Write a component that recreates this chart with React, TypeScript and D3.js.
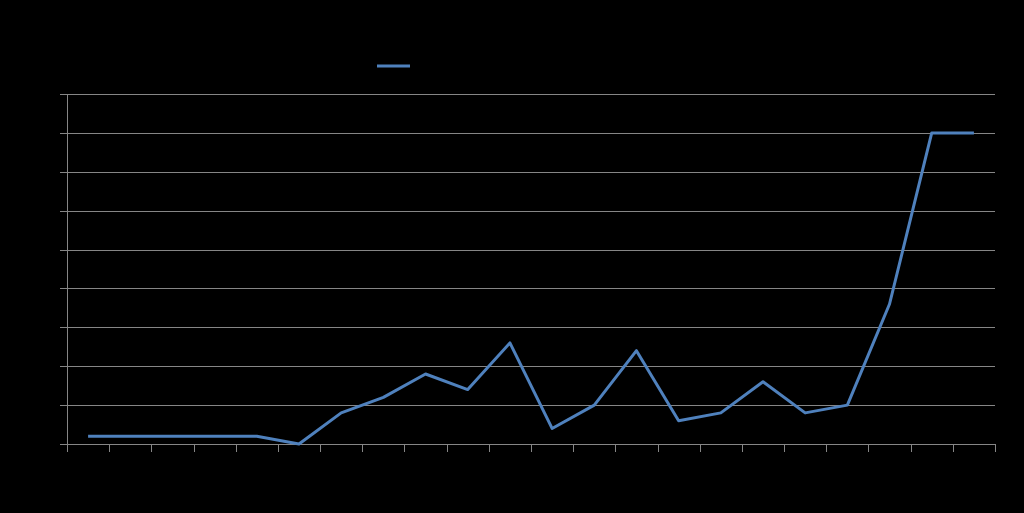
import React from "react";
import * as d3 from "d3";

const categories: string[] = Array.from({ length: 22 }, (_, i) => String(i + 1));
const seriesName = "Series 1";
const values: number[] = [0.2, 0.2, 0.2, 0.2, 0.2, 0, 0.8, 1.2, 1.8, 1.4, 2.6, 0.4, 1.0, 2.4, 0.6, 0.8, 1.6, 0.8, 1.0, 3.6, 8, 8];
const yTicks: number[] = [0, 1, 2, 3, 4, 5, 6, 7, 8, 9];

const W = 1024;
const H = 513;
const left = 67, right = 995, top = 94, bottom = 444;

export default function App() {
  const x = d3.scaleBand<string>().domain(categories).range([left, right]);
  const y = d3.scaleLinear().domain([0, 9]).range([bottom, top]);
  const line = d3
    .line<number>()
    .x((_, i) => (x(categories[i]) as number) + x.bandwidth() / 2)
    .y((d) => y(d));
  const grid = "#868686";
  const blue = "#4f81bd";
  const tickEdges = [...categories.map((c) => x(c) as number), right];
  const crisp = (v: number) => Math.round(v) + 0.5;
  return (
    <div style={{ position: "fixed", left: 0, top: 0, width: W, height: H, background: "#000" }}>
      <svg width={W} height={H} style={{ display: "block", fontFamily: "Liberation Sans, Arial, sans-serif" }}>
        <rect x={0} y={0} width={W} height={H} fill="#000" />
        {yTicks.map((t) => (
          <g key={t}>
            <line x1={left - 7} x2={right} y1={crisp(y(t))} y2={crisp(y(t))} stroke={grid} strokeWidth={1} />
            <text x={left - 10} y={y(t) + 4} textAnchor="end" fontSize={12} fill="#000">{t}</text>
          </g>
        ))}
        <line x1={crisp(left)} x2={crisp(left)} y1={top} y2={bottom} stroke={grid} strokeWidth={1} />
        {tickEdges.map((e, i) => (
          <line key={i} x1={crisp(e)} x2={crisp(e)} y1={bottom} y2={bottom + 8} stroke={grid} strokeWidth={1} />
        ))}
        {categories.map((c) => (
          <text key={c} x={(x(c) as number) + x.bandwidth() / 2} y={bottom + 22} textAnchor="middle" fontSize={12} fill="#000">{c}</text>
        ))}
        <path d={line(values) ?? ""} fill="none" stroke={blue} strokeWidth={3} strokeLinejoin="round" />
        <line x1={377} x2={410} y1={66} y2={66} stroke={blue} strokeWidth={3} />
        <text x={416} y={70} fontSize={12} fill="#000">{seriesName}</text>
      </svg>
    </div>
  );
}
